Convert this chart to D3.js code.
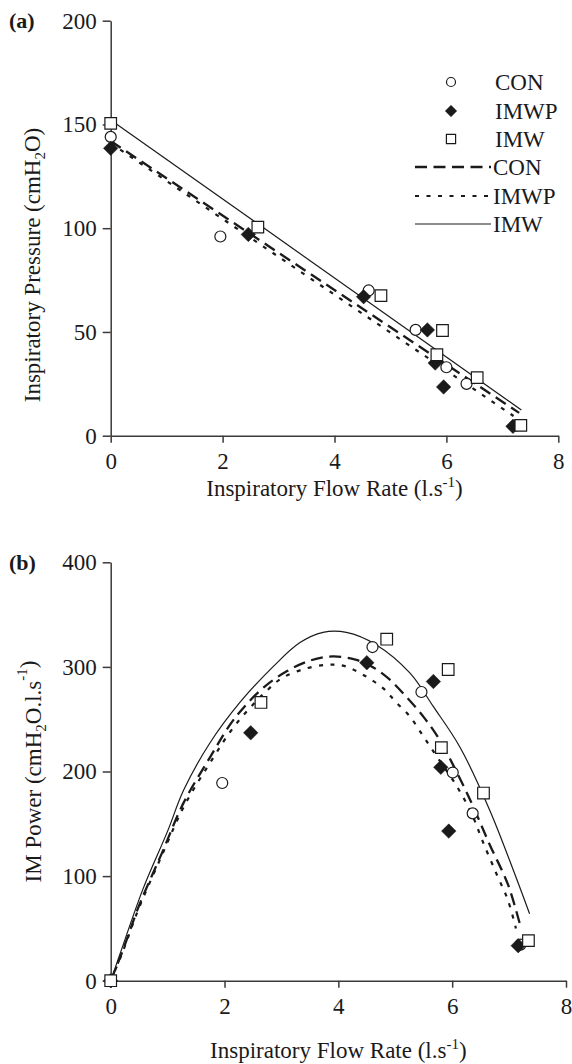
<!DOCTYPE html>
<html><head><meta charset="utf-8">
<script src="https://cdn.jsdelivr.net/npm/d3@7/dist/d3.min.js"></script>
<style>
html,body{margin:0;padding:0;background:#fff;}
svg{display:block;}
text{font-family:"Liberation Serif","Times New Roman",serif;fill:#1a1a1a;}
</style></head>
<body>
<svg id="chart" width="572" height="1064"></svg>
<script>
// ---------- DATA ----------
const xTicks = [0, 2, 4, 6, 8];
const yTicksA = [0, 50, 100, 150, 200];
const yTicksB = [0, 100, 200, 300, 400];
const seriesNames = ["CON", "IMWP", "IMW"];

// Panel (a): inspiratory pressure vs flow
const conFlow  = [0, 1.96, 4.61, 5.45, 6.0, 6.36, 7.25];
const conPres  = [144, 96, 70, 51, 33, 25, 5];
const imwpFlow = [0, 2.46, 4.52, 5.66, 5.8, 5.95, 7.19];
const imwpPres = [138.5, 97, 67, 51, 35, 23.5, 4.5];
const imwFlow  = [0, 2.63, 4.83, 5.93, 5.83, 6.55, 7.33];
const imwPres  = [150.5, 100.5, 67.5, 50.7, 39, 28, 5];

// regression lines (a)
const conLineX  = [0, 7.3];   const conLineY  = [142, 11];
const imwpLineX = [0, 7.2];   const imwpLineY = [141, 9.5];
const imwLineX  = [0, 7.34];  const imwLineY  = [152.2, 12.4];

// Panel (b): IM power vs flow
const conPow  = [0, 189, 319, 276, 199, 160, 34.5];
const conFlowB = [0, 1.96, 4.6, 5.46, 6.01, 6.36, 7.2];
const imwpPow = [0, 237, 304, 286, 204, 143, 33.5];
const imwpFlowB = [0, 2.46, 4.5, 5.67, 5.8, 5.94, 7.16];
const imwPow  = [0, 266, 326.5, 297.5, 222.8, 179.4, 38.3];
const imwFlowB = [0, 2.64, 4.85, 5.93, 5.81, 6.55, 7.34];

// fitted curves (b)
const conCurveX  = [0, 0.2, 0.5, 0.9, 1.28, 1.75, 2.1, 2.35, 2.7, 3.1, 3.5, 3.9, 4.3, 4.6, 4.9, 5.2, 5.5, 5.76, 6.0, 6.34, 6.66, 6.98, 7.2];
const conCurveY  = [0, 27, 72, 122, 170, 214, 245, 262, 281, 296, 306, 310, 307, 300, 288, 271, 252, 232, 208, 170, 130, 92, 52];
const imwpCurveX = [0, 0.2, 0.5, 0.9, 1.3, 1.8, 2.1, 2.4, 2.7, 3.0, 3.4, 3.8, 4.1, 4.48, 4.8, 5.0, 5.25, 5.5, 5.76, 6.08, 6.34, 6.53, 6.78, 6.98, 7.12];
const imwpCurveY = [0, 26, 70, 120, 168, 213, 238, 258, 275, 289, 298, 302, 301, 291, 279, 267, 253, 233, 212, 186, 160, 134, 102, 77, 50];
const imwCurveX  = [0, 0.16, 0.57, 1.0, 1.28, 1.74, 2.27, 2.85, 3.32, 3.73, 4.14, 4.67, 5.26, 5.67, 6.14, 6.66, 7.1, 7.36];
const imwCurveY  = [0, 25, 88, 143, 182, 227, 266, 300, 323, 333, 333, 321, 294, 262, 223, 163, 102, 64];

// ---------- DRAW ----------
const svg = d3.select("#chart");
const FS = 23;
const ink = "#1a1a1a";
const axisCol = "#3a3a3a";

const zip = (xs, ys) => xs.map((x, i) => [x, ys[i]]);

const lineStyles = {
  CON:  {dash: "12,6.5", width: 2.3},
  IMWP: {dash: "4,7.5", width: 2.2},
  IMW:  {dash: null, width: 1.2}
};

function markerPath(type, s) {
  if (type === "CON") return null;
  if (type === "IMWP") return `M0,${-s}L${s},0L0,${s}L${-s},0Z`;
  return `M${-s},${-s}H${s}V${s}H${-s}Z`;
}

function drawMarker(g, type, cx, cy, size) {
  if (type === "CON") {
    g.append("circle").attr("cx", cx).attr("cy", cy).attr("r", size)
      .attr("fill", "#fff").attr("stroke", ink).attr("stroke-width", 1.2);
  } else if (type === "IMWP") {
    g.append("path").attr("d", markerPath(type, size * 1.25))
      .attr("transform", `translate(${cx},${cy})`).attr("fill", ink).attr("stroke", ink).attr("stroke-width", 0.5);
  } else {
    g.append("path").attr("d", markerPath(type, size))
      .attr("transform", `translate(${cx},${cy})`).attr("fill", "#fff").attr("stroke", ink).attr("stroke-width", 1.2);
  }
}

function drawAxes(x, y, yTicks) {
  const gx = svg.append("g").attr("transform", `translate(0,${y(0)})`)
    .call(d3.axisBottom(x).tickValues(xTicks).tickFormat(d3.format("d")).tickSize(7).tickSizeOuter(0).tickPadding(10));
  const gy = svg.append("g").attr("transform", `translate(${x(0)},0)`)
    .call(d3.axisLeft(y).tickValues(yTicks).tickFormat(d3.format("d")).tickSize(8).tickSizeOuter(0).tickPadding(6));
  [gx, gy].forEach(g => {
    g.select(".domain").attr("stroke", axisCol).attr("stroke-width", 1.5);
    g.selectAll(".tick line").attr("stroke", axisCol).attr("stroke-width", 1.5);
    g.selectAll(".tick text").attr("font-size", FS).attr("font-family", "Liberation Serif").attr("fill", ink);
  });
}

function xTitle(cx, baseline) {
  const t = svg.append("text").attr("x", cx).attr("y", baseline).attr("text-anchor", "middle").attr("font-size", FS);
  t.append("tspan").text("Inspiratory Flow Rate (l.s");
  t.append("tspan").attr("font-size", 15).attr("dy", -9).text("-1");
  t.append("tspan").attr("dy", 9).text(")");
}

// ---------- Panel (a) ----------
const xA = d3.scaleLinear().domain([0, 8]).range([110.7, 558.3]);
const yA = d3.scaleLinear().domain([0, 200]).range([435.7, 20.7]);
drawAxes(xA, yA, yTicksA);

const lineGen = (x, y) => d3.line().x(d => x(d[0])).y(d => y(d[1]));

const linesA = [
  {name: "CON", pts: zip(conLineX, conLineY)},
  {name: "IMWP", pts: zip(imwpLineX, imwpLineY)},
  {name: "IMW", pts: zip(imwLineX, imwLineY)}
];
linesA.forEach(l => {
  svg.append("path").attr("d", lineGen(xA, yA)(l.pts)).attr("fill", "none")
    .attr("stroke", ink).attr("stroke-width", lineStyles[l.name].width)
    .attr("stroke-dasharray", lineStyles[l.name].dash);
});

const ptsA = [
  {name: "CON", pts: zip(conFlow, conPres)},
  {name: "IMWP", pts: zip(imwpFlow, imwpPres)},
  {name: "IMW", pts: zip(imwFlow, imwPres)}
];
const gA = svg.append("g");
ptsA.forEach(s => s.pts.forEach(p => drawMarker(gA, s.name, xA(p[0]), yA(p[1]), s.name === "CON" ? 5.5 : 5.8)));

// legend (a)
const lg = svg.append("g");
const legRows = [82, 111, 139, 167, 196, 224];
seriesNames.forEach((n, i) => {
  drawMarker(lg, n, 451, legRows[i], n === "CON" ? 4.5 : 4.6);
  lg.append("text").attr("x", 495).attr("y", legRows[i] + 7.6).attr("font-size", FS).text(n);
});
seriesNames.forEach((n, i) => {
  const yy = legRows[i + 3];
  lg.append("line").attr("x1", 415).attr("x2", 491).attr("y1", yy).attr("y2", yy)
    .attr("stroke", ink).attr("stroke-width", lineStyles[n].width).attr("stroke-dasharray", lineStyles[n].dash);
  lg.append("text").attr("x", 493).attr("y", yy + 7.6).attr("font-size", FS).text(n);
});

xTitle((xA(0) + xA(8)) / 2, 496);
{
  const t = svg.append("text").attr("transform", "translate(40,265) rotate(-90)")
    .attr("text-anchor", "middle").attr("font-size", FS);
  t.append("tspan").text("Inspiratory Pressure (cmH");
  t.append("tspan").attr("font-size", 15).attr("dy", 5).text("2");
  t.append("tspan").attr("dy", -5).text("O)");
}
svg.append("text").attr("x", 9).attr("y", 28).attr("font-size", 22).attr("font-weight", "bold").text("(a)");

// ---------- Panel (b) ----------
const xB = d3.scaleLinear().domain([0, 8]).range([110.7, 566]);
const yB = d3.scaleLinear().domain([0, 400]).range([980.7, 562.3]);
drawAxes(xB, yB, yTicksB);

const curveGen = d3.line().x(d => xB(d[0])).y(d => yB(d[1])).curve(d3.curveCatmullRom.alpha(0.5));
const curvesB = [
  {name: "CON", pts: zip(conCurveX, conCurveY)},
  {name: "IMWP", pts: zip(imwpCurveX, imwpCurveY)},
  {name: "IMW", pts: zip(imwCurveX, imwCurveY)}
];
curvesB.forEach(c => {
  svg.append("path").attr("d", curveGen(c.pts)).attr("fill", "none")
    .attr("stroke", ink).attr("stroke-width", lineStyles[c.name].width)
    .attr("stroke-dasharray", lineStyles[c.name].dash);
});

const ptsB = [
  {name: "CON", pts: zip(conFlowB, conPow)},
  {name: "IMWP", pts: zip(imwpFlowB, imwpPow)},
  {name: "IMW", pts: zip(imwFlowB, imwPow)}
];
const gB = svg.append("g");
ptsB.forEach(s => s.pts.forEach(p => drawMarker(gB, s.name, xB(p[0]), yB(p[1]), s.name === "CON" ? 5.5 : 5.8)));

xTitle((xB(0) + xB(8)) / 2, 1058);
{
  const t = svg.append("text").attr("transform", `translate(41,${(yB(0) + yB(400)) / 2}) rotate(-90)`)
    .attr("text-anchor", "middle").attr("font-size", FS);
  t.append("tspan").text("IM Power (cmH");
  t.append("tspan").attr("font-size", 15).attr("dy", 5).text("2");
  t.append("tspan").attr("dy", -5).text("O.l.s");
  t.append("tspan").attr("font-size", 15).attr("dy", -14).text("-1");
  t.append("tspan").attr("dy", 9).text(")");
}
svg.append("text").attr("x", 9).attr("y", 570).attr("font-size", 22).attr("font-weight", "bold").text("(b)");
</script>
</body></html>
